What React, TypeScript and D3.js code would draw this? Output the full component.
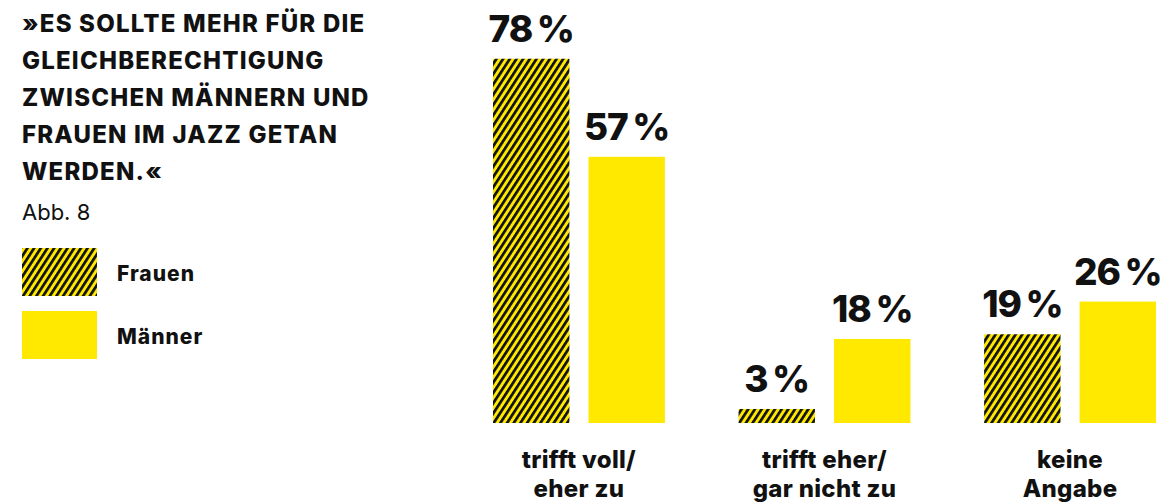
import React from "react";
import * as d3 from "d3";

const categories = [["trifft voll/", "eher zu"], ["trifft eher/", "gar nicht zu"], ["keine", "Angabe"]];
const seriesNames = ["Frauen", "Männer"];
const frauen = [78, 3, 19];
const maenner = [57, 18, 26];
const titleLines = ["»ES SOLLTE MEHR FÜR DIE", "GLEICHBERECHTIGUNG", "ZWISCHEN MÄNNERN UND", "FRAUEN IM JAZZ GETAN", "WERDEN.«"];
const subtitle = "Abb. 8";

const YELLOW = "#ffe900";
const INK = "#111111";
const FONT = "Inter, 'Noto Sans', sans-serif";

export default function App() {
  const W = 1164, H = 503;
  const keys = categories.map((c) => c.join(" "));
  const x0 = d3.scaleBand<string>().domain(keys).range([493, 1156]).paddingInner(0.3).paddingOuter(0);
  const x1 = d3.scaleBand<string>().domain(seriesNames).range([0, x0.bandwidth()]).paddingInner(0.2);
  const y = d3.scaleLinear().domain([0, 100]).range([423, 423 - 467]);
  const series = [frauen, maenner];
  const fills = ["url(#hatch)", YELLOW];

  return (
    <svg width={W} height={H} style={{ position: "absolute", left: 0, top: 0, background: "#fff" }}>
      <defs>
        <pattern id="hatch" patternUnits="userSpaceOnUse" width={5.6} height={10} patternTransform="rotate(33)">
          <rect x={0} y={0} width={5.6} height={10} fill={YELLOW} />
          <rect x={0} y={0} width={2.7} height={10} fill={INK} />
        </pattern>
      </defs>
      <g fontFamily={FONT} fill={INK}>
        {titleLines.map((t, i) => (
          <text key={i} x={22} y={32 + i * 37} fontSize={24} fontWeight={800} letterSpacing={1.2}>{t}</text>
        ))}
        <text x={22} y={220} fontSize={22} fontWeight={400}>{subtitle}</text>
      </g>
      <g fontFamily={FONT}>
        {seriesNames.map((s, i) => (
          <g key={s}>
            <rect x={22} y={248 + i * 63} width={75} height={48} fill={fills[i]} />
            <text x={117} y={281 + i * 63} fontSize={21} fontWeight={800} fill={INK} letterSpacing={1}>{s}</text>
          </g>
        ))}
      </g>
      <g fontFamily={FONT}>
        {keys.map((k, ci) => (
          <g key={k} transform={`translate(${x0(k)},0)`}>
            {seriesNames.map((s, si) => {
              const v = series[si][ci];
              const bx = x1(s)!;
              const bw = x1.bandwidth();
              return (
                <g key={s}>
                  <rect x={bx} y={y(v)} width={bw} height={y(0) - y(v)} fill={fills[si]} />
                  <text x={bx + bw / 2} y={y(v) - 17} textAnchor="middle" fontSize={37} fontWeight={800} fill={INK} letterSpacing={-1}>
                    {v}{"\u2009"}%
                  </text>
                </g>
              );
            })}
            {categories[ci].map((line, li) => (
              <text key={li} x={x0.bandwidth() / 2} y={468 + li * 29} textAnchor="middle" fontSize={24} fontWeight={800} fill={INK} letterSpacing={0.3}>{line}</text>
            ))}
          </g>
        ))}
      </g>
    </svg>
  );
}
